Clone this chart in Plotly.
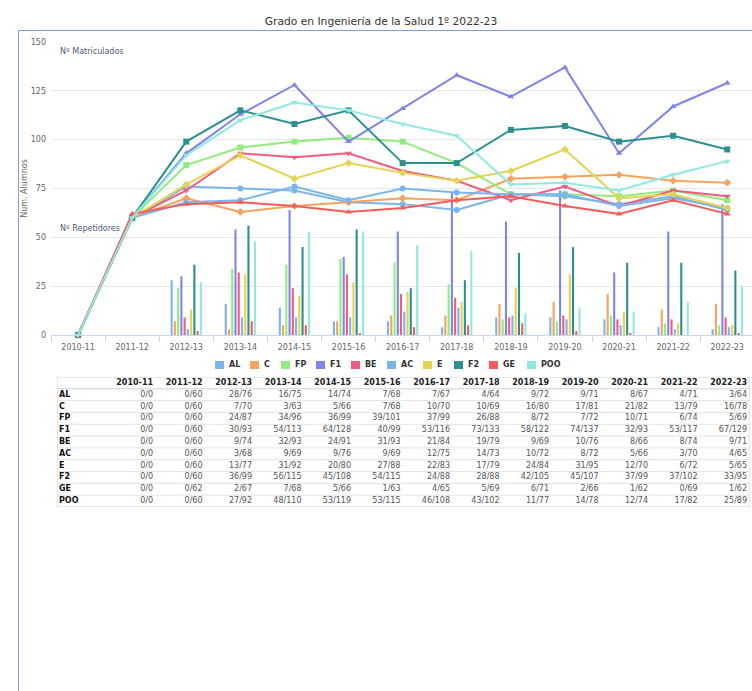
import plotly.graph_objects as go

years = ["2010-11", "2011-12", "2012-13", "2013-14", "2014-15", "2015-16", "2016-17",
         "2017-18", "2018-19", "2019-20", "2020-21", "2021-22", "2022-23"]
series = ["AL", "C", "FP", "F1", "BE", "AC", "E", "F2", "GE", "POO"]

# Nº Repetidores per series
rep_AL = [0, 0, 28, 16, 14, 7, 7, 4, 9, 9, 8, 4, 3]
rep_C = [0, 0, 7, 3, 5, 7, 10, 10, 16, 17, 21, 13, 16]
rep_FP = [0, 0, 24, 34, 36, 39, 37, 26, 8, 7, 10, 6, 5]
rep_F1 = [0, 0, 30, 54, 64, 40, 53, 73, 58, 74, 32, 53, 67]
rep_BE = [0, 0, 9, 32, 24, 31, 21, 19, 9, 10, 8, 8, 9]
rep_AC = [0, 0, 3, 9, 9, 9, 12, 14, 10, 8, 5, 3, 4]
rep_E = [0, 0, 13, 31, 20, 27, 22, 17, 24, 31, 12, 6, 5]
rep_F2 = [0, 0, 36, 56, 45, 54, 24, 28, 42, 45, 37, 37, 33]
rep_GE = [0, 0, 2, 7, 5, 1, 4, 5, 6, 2, 1, 0, 1]
rep_POO = [0, 0, 27, 48, 53, 53, 46, 43, 11, 14, 12, 17, 25]

# Nº Matriculados per series
mat_AL = [0, 60, 76, 75, 74, 68, 67, 64, 72, 71, 67, 71, 64]
mat_C = [0, 60, 70, 63, 66, 68, 70, 69, 80, 81, 82, 79, 78]
mat_FP = [0, 60, 87, 96, 99, 101, 99, 88, 72, 72, 71, 74, 69]
mat_F1 = [0, 60, 93, 113, 128, 99, 116, 133, 122, 137, 93, 117, 129]
mat_BE = [0, 60, 74, 93, 91, 93, 84, 79, 69, 76, 66, 74, 71]
mat_AC = [0, 60, 68, 69, 76, 69, 75, 73, 72, 72, 66, 70, 65]
mat_E = [0, 60, 77, 92, 80, 88, 83, 79, 84, 95, 70, 72, 65]
mat_F2 = [0, 60, 99, 115, 108, 115, 88, 88, 105, 107, 99, 102, 95]
mat_GE = [0, 62, 67, 68, 66, 63, 65, 69, 71, 66, 62, 69, 62]
mat_POO = [0, 60, 92, 110, 119, 115, 108, 102, 77, 78, 74, 82, 89]

rep = [rep_AL, rep_C, rep_FP, rep_F1, rep_BE, rep_AC, rep_E, rep_F2, rep_GE, rep_POO]
mat = [mat_AL, mat_C, mat_FP, mat_F1, mat_BE, mat_AC, mat_E, mat_F2, mat_GE, mat_POO]

colors = ["#7cb5ec", "#f7a35c", "#90ed7d", "#8085e9", "#f15c80",
          "#7cb5ec", "#e4d354", "#2b908f", "#f45b5b", "#91e8e1"]
symbols = ["circle", "diamond", "square", "triangle-up", "triangle-down",
           "circle", "diamond", "square", "triangle-up", "triangle-down"]

FONT = "DejaVu Sans"
W, H = 752, 691
ML, MR, MT, MB = 51, 0, 42, 0
PW, PH = W - ML - MR, H - MT - MB
CAT_W = 54.1   # px per category in the (wider, cropped) chart

def py(px):  # screen pixel y -> paper y
    return (H - MB - px) / PH

def pxx(px):  # screen pixel x -> paper x
    return (px - ML) / PW

fig = go.Figure()

for i, s in enumerate(series):
    fig.add_trace(go.Bar(
        x=years, y=rep[i], name=s, legendgroup=s, showlegend=False,
        marker=dict(color=colors[i], line=dict(width=0)),
        xaxis="x", yaxis="y"))

for i, s in enumerate(series):
    fig.add_trace(go.Scatter(
        x=years, y=mat[i], name=s, legendgroup=s, showlegend=False,
        mode="lines+markers", cliponaxis=False,
        line=dict(color=colors[i], width=2),
        marker=dict(symbol=symbols[i], size=6, color=colors[i]),
        xaxis="x", yaxis="y"))

# ---- table built from text on an auxiliary axis (columns = index, rows = index)
ncol = len(years) + 1
nrow = len(series)
fig.add_trace(go.Scatter(
    x=[j + 2 - 0.06 for j in range(len(years))], y=[0] * len(years),
    text=["<b>%s</b>" % y for y in years], mode="text", textposition="middle left",
    textfont=dict(family=FONT, size=8, color="#222"), showlegend=False,
    hoverinfo="skip", cliponaxis=False, xaxis="x2", yaxis="y2"))
fig.add_trace(go.Scatter(
    x=[0.04] * nrow, y=[i + 1 for i in range(nrow)],
    text=["<b>%s</b>" % s for s in series], mode="text", textposition="middle right",
    textfont=dict(family=FONT, size=8, color="#111"), showlegend=False,
    hoverinfo="skip", cliponaxis=False, xaxis="x2", yaxis="y2"))
cx, cy, ct = [], [], []
for i in range(nrow):
    for j in range(len(years)):
        cx.append(j + 2 - 0.06)
        cy.append(i + 1)
        ct.append("%d/%d" % (rep[i][j], mat[i][j]))
fig.add_trace(go.Scatter(
    x=cx, y=cy, text=ct, mode="text", textposition="middle left",
    textfont=dict(family=FONT, size=8, color="#555"), showlegend=False,
    hoverinfo="skip", cliponaxis=False, xaxis="x2", yaxis="y2"))

shapes = [dict(type="rect", xref="x2", yref="y2", x0=0, x1=ncol, y0=-0.5, y1=nrow + 0.5,
               line=dict(color="#cfcfcf", width=1), layer="below")]
for k in range(nrow):
    shapes.append(dict(type="line", xref="x2", yref="y2", x0=0, x1=ncol,
                       y0=k + 0.5, y1=k + 0.5,
                       line=dict(color="#cfcfcf" if k == 0 else "#e3e3e3", width=1),
                       layer="below"))

# container border
shapes += [
    dict(type="line", xref="paper", yref="paper", x0=pxx(18.5), x1=pxx(18.5),
         y0=py(30.5), y1=py(691), line=dict(color="#7d9fd6", width=1)),
    dict(type="line", xref="paper", yref="paper", x0=pxx(18.5), x1=pxx(752),
         y0=py(30.5), y1=py(30.5), line=dict(color="#7d9fd6", width=1)),
]

annotations = [
    dict(text="Nº Matriculados", x=pxx(58), y=145, xref="paper", yref="y",
         xanchor="left", yanchor="middle", showarrow=False,
         font=dict(size=8, color="#4d5a75")),
    dict(text="Nº Repetidores", x=pxx(58), y=54.5, xref="paper", yref="y",
         xanchor="left", yanchor="middle", showarrow=False,
         font=dict(size=8, color="#4d5a75")),
]

# legend (compact, Highcharts-like)
legend_left = [215, 250, 281, 316, 351, 387, 423, 454, 489, 527]
LEG_Y = 365
for i, s in enumerate(series):
    x0 = legend_left[i]
    shapes.append(dict(type="rect", xref="paper", yref="paper",
                       x0=pxx(x0), x1=pxx(x0 + 9), y0=py(LEG_Y + 4), y1=py(LEG_Y - 4),
                       fillcolor=colors[i], line=dict(width=0)))
    annotations.append(dict(text="<b>%s</b>" % s, x=pxx(x0 + 12), y=py(LEG_Y),
                            xref="paper", yref="paper", xanchor="left", yanchor="middle",
                            showarrow=False, font=dict(size=8, color="#333")))

fig.update_layout(
    width=W, height=H,
    margin=dict(l=ML, r=MR, t=MT, b=MB),
    paper_bgcolor="white", plot_bgcolor="white",
    font=dict(family=FONT, size=8, color="#666"),
    barmode="group", bargap=0.4, bargroupgap=0.35,
    showlegend=False,
    title=dict(text="Grado en Ingeniería de la Salud 1º 2022-23",
               x=381 / W, xanchor="center", y=1 - 21 / H, yanchor="middle",
               font=dict(family=FONT, size=10.7, color="#333")),
    xaxis=dict(domain=[0, 1], type="category", range=[-0.5, -0.5 + PW / CAT_W],
               showgrid=False, showline=True, linecolor="#ccd6eb",
               ticks="outside", tickson="boundaries", ticklen=6, tickcolor="#ccd6eb",
               tickfont=dict(size=8, color="#666"), ticklabelstandoff=4,
               fixedrange=True, automargin=False),
    yaxis=dict(domain=[py(335), py(42)], range=[0, 150], tickvals=[0, 25, 50, 75, 100, 125, 150],
               showgrid=True, gridcolor="#e6e6e6", zeroline=False, showline=False,
               tickfont=dict(size=8, color="#666"), ticklabelstandoff=4, automargin=False,
               title=dict(text="Num. Alumnos", font=dict(size=8, color="#666"), standoff=1)),
    xaxis2=dict(domain=[pxx(57), pxx(750)], range=[0, ncol], visible=False,
                fixedrange=True, anchor="y2"),
    yaxis2=dict(domain=[py(507), py(377)], range=[nrow + 0.5, -0.5], visible=False,
                fixedrange=True, anchor="x2"),
    annotations=annotations,
    shapes=shapes,
)

fig.write_html("out.html",
               config={"displayModeBar": False},
               post_script="document.body.style.margin='0';"
                           "document.body.style.overflow='hidden';")
